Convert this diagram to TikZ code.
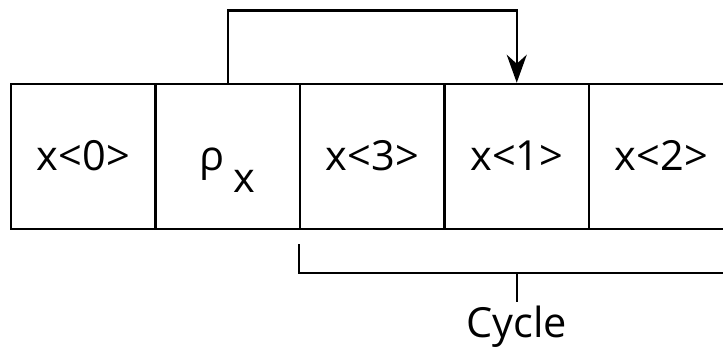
\documentclass[tikz,border=0pt]{standalone}
\usepackage{fontspec}
\setmainfont{Open Sans}
\usetikzlibrary{arrows.meta,calc}
\begin{document}
\begin{tikzpicture}[x=1pt,y=-1pt,
  cell/.style={draw,line width=2.5pt,minimum width=144.5pt,minimum height=145pt,
    inner sep=0pt,text height=29pt,text depth=0pt,font=\fontsize{41.5}{48}\selectfont},
  wire/.style={line width=2.5pt},
  lbl/.style={font=\fontsize{41.5}{48}\selectfont,inner sep=0pt}]
\useasboundingbox (0,0) rectangle (723,352);
\node[cell] (c0) at (83.25,156.5) {x<0>};
\node[cell] (c1) at (227.75,156.5) {ρ\hspace{0.22em}\raisebox{-22pt}{x}};
\node[cell] (c2) at (372.25,156.5) {x<3>};
\node[cell] (c3) at (516.75,156.5) {x<1>};
\node[cell] (c4) at (661.25,156.5) {x<2>};
\draw[wire,-{Stealth[length=28pt,width=20pt,inset=9pt]}]
  (c1.north) -- ++(0,-72) -| (c3.north);
\coordinate (bs) at ($(c2.south west)+(0,14)$);
\coordinate (be) at ($(c4.south east)+(0,43)$);
\coordinate (bm) at ($(c3.south)+(0,43)$);
\coordinate (bt) at ($(c3.south)+(0,72)$);
\draw[wire] (bs) |- (be);
\draw[wire] (bm) -- (bt);
\node[lbl,anchor=base] (cyc) at (516.75,338) {Cycle};
\end{tikzpicture}
\end{document}
